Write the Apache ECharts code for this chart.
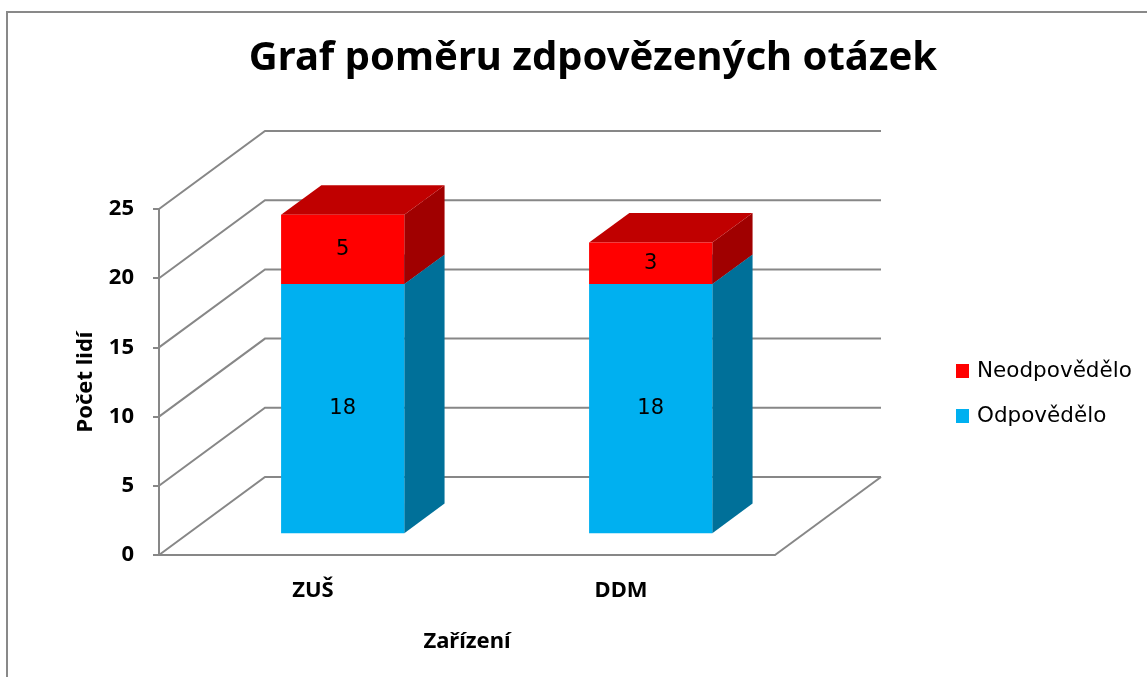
<!DOCTYPE html>
<html>
<head>
<meta charset="utf-8">
<script src="https://cdn.jsdelivr.net/npm/echarts@6/dist/echarts.min.js"></script>
<style>
  html, body { margin: 0; padding: 0; background: #fff; }
  #chart { width: 1147px; height: 677px; }
</style>
</head>
<body>
<div id="chart"></div>
<script>
// data
const categories = ['ZUŠ', 'DDM']
const answered = [18, 18]      // Odpovědělo
const notAnswered = [5, 3]     // Neodpovědělo
const yTicks = [0, 5, 10, 15, 20, 25]

// fake 3D depth (px)
const DX = 106
const DY = 78
const BAR_POS = 0.28
const BAR_DEPTH = 0.38
const BAR_WIDTH = 0.4
const GRID_COLOR = '#878787'
const FONT = 'Noto Sans'
const FONT_PLAIN = 'DejaVu Sans'

const chart = echarts.init(document.getElementById('chart'))

// zadní stěna + podlaha
const wallItem = (params, api) => {
  const cs = params.coordSys
  const y = api.coord([0, api.value(1)])[1]
  const x0 = cs.x
  const x1 = cs.x + cs.width
  const children = [{
    type: 'polyline',
    shape: { points: [[x0, y], [x0 + DX, y - DY], [x1 + DX, y - DY]] },
    style: { stroke: GRID_COLOR, lineWidth: 2, fill: null },
  }]
  if (api.value(1) === 0) {
    children.push({
      type: 'line',
      shape: { x1: x1, y1: y, x2: x1 + DX, y2: y - DY },
      style: { stroke: GRID_COLOR, lineWidth: 2 },
    })
  }
  return { type: 'group', silent: true, children }
}

const barItem = (front, side, top) => (params, api) => {
  const p0 = api.coord([api.value(0), api.value(1)])
  const p1 = api.coord([api.value(0), api.value(2)])
  const bw = api.size([1, 0])[0] * BAR_WIDTH
  const dx = DX * BAR_DEPTH
  const dy = DY * BAR_DEPTH
  const xl = p0[0] + DX * BAR_POS - bw / 2
  const xr = xl + bw
  const yb = p0[1] - DY * BAR_POS
  const yt = p1[1] - DY * BAR_POS
  return {
    type: 'group',
    children: [
      { type: 'polygon', shape: { points: [[xr, yb], [xr, yt], [xr + dx, yt - dy], [xr + dx, yb - dy]] }, style: { fill: side } },
      { type: 'polygon', shape: { points: [[xl, yt], [xl + dx, yt - dy], [xr + dx, yt - dy], [xr, yt]] }, style: { fill: top } },
      { type: 'rect', shape: { x: xl, y: yt, width: bw, height: yb - yt }, style: { fill: front } },
      {
        type: 'text',
        style: {
          text: String(api.value(3)), x: (xl + xr) / 2, y: (yt + yb) / 2,
          align: 'center', verticalAlign: 'middle',
          fontFamily: FONT_PLAIN, fontSize: 21, fill: '#000',
        },
      },
    ],
  }
}

const blueData = categories.map((c, i) => [i, 0, answered[i], answered[i]])
const redData = categories.map((c, i) => [i, answered[i], answered[i] + notAnswered[i], notAnswered[i]])

const option = {
  animation: false,
  backgroundColor: '#fff',
  title: {
    text: 'Graf poměru zdpovězených otázek',
    left: 588,
    top: 34,
    textAlign: 'center',
    textStyle: { fontFamily: FONT, fontSize: 40, fontWeight: 'bold', color: '#000' },
  },
  graphic: [{
    type: 'rect',
    shape: { x: 7, y: 12, width: 1200, height: 700 },
    style: { fill: null, stroke: '#898989', lineWidth: 2 },
    silent: true,
  }],
  legend: {
    orient: 'vertical',
    left: 951,
    top: 355,
    itemWidth: 13,
    itemHeight: 14,
    itemGap: 23,
    itemStyle: { borderWidth: 0 },
    icon: 'rect',
    data: ['Neodpovědělo', 'Odpovědělo'],
    textStyle: { fontFamily: FONT_PLAIN, fontSize: 21.5, color: '#000', padding: [0, 0, 0, 3] },
  },
  grid: {
    left: 159,
    right: 372,
    top: 209,
    bottom: 122,
  },
  xAxis: {
    type: 'category',
    data: categories,
    name: 'Zařízení',
    nameLocation: 'middle',
    nameGap: 76,
    nameTextStyle: { fontFamily: FONT, fontSize: 22, fontWeight: 'bold', color: '#000' },
    axisLine: { lineStyle: { color: GRID_COLOR, width: 2 } },
    axisTick: { length: 7, lineStyle: { color: GRID_COLOR, width: 2 } },
    axisLabel: { margin: 25, fontFamily: FONT, fontSize: 22, fontWeight: 'bold', color: '#000' },
    splitLine: { show: false },
  },
  yAxis: {
    type: 'value',
    min: 0,
    max: 25,
    interval: 5,
    name: 'Počet lidí',
    nameLocation: 'middle',
    nameRotate: 90,
    nameGap: 62,
    nameTextStyle: { fontFamily: FONT, fontSize: 22, fontWeight: 'bold', color: '#000' },
    axisLine: { show: true, lineStyle: { color: GRID_COLOR, width: 2 } },
    axisTick: { show: true, length: 6, lineStyle: { color: GRID_COLOR, width: 2 } },
    axisLabel: { margin: 25, fontFamily: FONT, fontSize: 22, fontWeight: 'bold', color: '#000' },
    splitLine: { show: false },
  },
  series: [
    {
      name: 'mřížka',
      type: 'custom',
      renderItem: wallItem,
      data: yTicks.map(t => [0, t]),
      encode: { x: 0, y: 1 },
      z: 1,
    },
    {
      name: 'Odpovědělo',
      type: 'custom',
      renderItem: barItem('#00B0F0', '#007099', '#0090C0'),
      itemStyle: { color: '#00B0F0' },
      data: blueData,
      encode: { x: 0, y: 2 },
      z: 2,
    },
    {
      name: 'Neodpovědělo',
      type: 'custom',
      renderItem: barItem('#FF0000', '#A00000', '#C00000'),
      itemStyle: { color: '#FF0000' },
      data: redData,
      encode: { x: 0, y: 2 },
      z: 3,
    },
  ],
}

chart.setOption(option)
window.addEventListener('resize', () => chart.resize())
</script>
</body>
</html>
